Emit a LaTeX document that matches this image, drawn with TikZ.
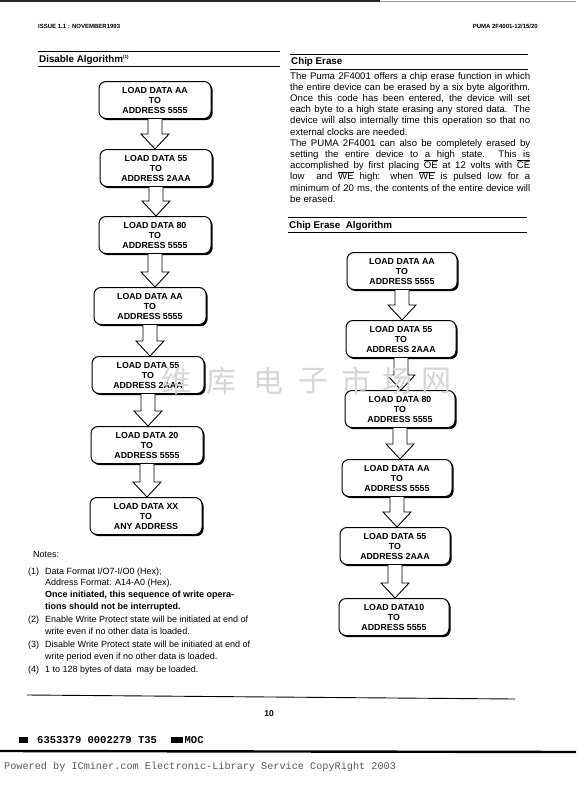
\documentclass[tikz,border=0pt]{standalone}
\usepackage{fontspec}
\setmainfont{Liberation Sans}
\newfontfamily\monofont{Liberation Mono}
\newfontfamily\cjkfont{Noto Sans CJK SC}
\usetikzlibrary{calc, shadows, positioning}

\tikzset{
  stepbox/.style={draw, line width=1pt, rounded corners=7pt, fill=white,
    minimum width=112pt, minimum height=37pt, align=center, inner sep=1pt,
    font=\fontsize{8.8}{10}\selectfont\bfseries,
    drop shadow={shadow xshift=1.6pt, shadow yshift=-1.6pt, opacity=1, fill=black}},
  hollow/.style={draw, line width=0.9pt, fill=white, line join=miter},
  rulebar/.style={line width=0.9pt},
  heading/.style={anchor=base west, inner sep=0pt, font=\fontsize{9.8}{11}\selectfont\bfseries},
  bodytext/.style={anchor=north west, inner sep=0pt, align=left, font=\fontsize{9.6}{11.2}\selectfont},
  smallhead/.style={inner sep=0pt, font=\fontsize{6}{6}\selectfont\bfseries},
}
\newcommand{\jline}[1]{\makebox[240pt][s]{#1}}
\newcommand{\notenum}[1]{\makebox[17pt][l]{#1}}
\newcommand{\ovl}[1]{$\overline{\mbox{#1}}$}

\begin{document}
\begin{tikzpicture}[x=1pt, y=-1pt]
  \useasboundingbox (0,0) rectangle (576,792);
  \fill[white] (0,0) rectangle (576,792);
  % scan edge at top
  \draw[line width=1.6pt, black!85] (0,1) -- (380,1);
  \draw[line width=0.8pt, black!40] (380,1) -- (576,1);

  % page header
  \node[smallhead, anchor=base west] (issue) at (38,29) {ISSUE 1.1 : NOVEMBER1993};
  \node[smallhead, anchor=base east] (part) at (538,29) {PUMA 2F4001-12/15/20};

  % left heading
  \draw[rulebar] (38,51) -- (280,51);
  \node[heading] (hdis) at (39,62.5) {Disable Algorithm\textsuperscript{\fontsize{4.5}{4.5}\selectfont(1)}};
  \draw[rulebar] (38,66) -- (280,66);

  % right headings
  \draw[rulebar] (290,54) -- (528,54);
  \node[heading] (hchip) at (291,64.5) {Chip Erase};
  \draw[rulebar] (290,69) -- (528,69);
  \draw[rulebar] (288,217) -- (527,217);
  \node[heading] (halg) at (289,228.5) {Chip Erase\ \ Algorithm};
  \draw[rulebar] (288,232) -- (527,232);

  % chip erase text
  \node[bodytext] (para) at (290,72) {%
    \jline{The Puma 2F4001 offers a chip erase function in which}\\
    \jline{the entire device can be erased by a six byte algorithm.}\\
    \jline{Once this code has been entered, the device will set}\\
    \jline{each byte to a high\ state erasing any stored data. The}\\
    \jline{device will also internally time this operation so that no}\\
    external clocks are needed.\\
    \jline{The PUMA 2F4001 can also be completely erased by}\\
    \jline{setting the entire device to a high state.\ \ This is}\\
    \jline{accomplished by first placing\ \ovl{OE} at 12 volts with \ovl{CE}}\\
    \jline{low\ \ and \ovl{WE} high: when \ovl{WE} is pulsed low for a}\\
    \jline{minimum of 20 ms, the contents of the entire device will}\\
    be erased.};

  % disable algorithm
  \foreach \n/\x/\y/\t in {1/155/100/{LOAD DATA AA\\TO\\ADDRESS 5555},
      2/156/168/{LOAD DATA 55\\TO\\ADDRESS 2AAA},
      3/155/235/{LOAD DATA 80\\TO\\ADDRESS 5555},
      4/150/306/{LOAD DATA AA\\TO\\ADDRESS 5555},
      5/148/375/{LOAD DATA 55\\TO\\ADDRESS 2AAA},
      6/147/445/{LOAD DATA 20\\TO\\ADDRESS 5555},
      7/146/516/{LOAD DATA XX\\TO\\ANY ADDRESS}}
    \node[stepbox] (l\n) at (\x,\y) {\t};

  % chip erase algorithm
  \foreach \n/\x/\y/\t in {1/402/271/{LOAD DATA AA\\TO\\ADDRESS 5555},
      2/401/339/{LOAD DATA 55\\TO\\ADDRESS 2AAA},
      3/400/409/{LOAD DATA 80\\TO\\ADDRESS 5555},
      4/397/478/{LOAD DATA AA\\TO\\ADDRESS 5555},
      5/395/546/{LOAD DATA 55\\TO\\ADDRESS 2AAA},
      6/394/617/{LOAD DATA10\\TO\\ADDRESS 5555}}
    \node[stepbox, minimum width=110pt] (r\n) at (\x,\y) {\t};

  % block arrows
  \foreach \i [count=\j from 2] in {1,...,6}
    \draw[hollow] let \p1=(l\i.south), \p2=(l\j.north) in
      ({\x1-7pt},\y1) -- ({\x1-7pt},{\y2+15pt}) -- ({\x1-14pt},{\y2+15pt}) -- (\x1,\y2)
      -- ({\x1+14pt},{\y2+15pt}) -- ({\x1+7pt},{\y2+15pt}) -- ({\x1+7pt},\y1);
  \foreach \i [count=\j from 2] in {1,...,5}
    \draw[hollow] let \p1=(r\i.south), \p2=(r\j.north) in
      ({\x1-7pt},\y1) -- ({\x1-7pt},{\y2+15pt}) -- ({\x1-14pt},{\y2+15pt}) -- (\x1,\y2)
      -- ({\x1+14pt},{\y2+15pt}) -- ({\x1+7pt},{\y2+15pt}) -- ({\x1+7pt},\y1);

  % notes
  \node[bodytext, font=\fontsize{9}{11.7}\selectfont] (notes) at (28,551) {%
    \hspace*{5pt}Notes:\\[5pt]
    \notenum{(1)}Data Format I/O7-I/O0 (Hex);\\
    \hspace*{17pt}Address Format: A14-A0 (Hex).\\
    \hspace*{17pt}\textbf{Once initiated, this sequence of write opera-}\\
    \hspace*{17pt}\textbf{tions should not be interrupted.}\\[1.6pt]
    \notenum{(2)}Enable Write Protect state will be initiated at end of\\
    \hspace*{17pt}write even if no other data is loaded.\\[1.6pt]
    \notenum{(3)}Disable Write Protect state will be initiated at end of\\
    \hspace*{17pt}write period even if no other data is loaded.\\[1.6pt]
    \notenum{(4)}1 to 128 bytes of data\ \ may be loaded.};

  % watermark
  \foreach \c/\x [count=\k] in {维/176,库/221,电/268,子/313,市/356,场/397,网/436}
    \node[text=black!16, font=\cjkfont\fontsize{30}{30}\selectfont, inner sep=0pt] (mark\k) at (\x,381) {\c};

  % page footer
  \draw[line width=0.9pt] (27,695) -- (515,699);
  \node[font=\fontsize{8.5}{9}\selectfont\bfseries] (pnum) at (269,714) {10};
  \node[anchor=west, inner sep=0pt, font=\monofont\bfseries\fontsize{10.5}{10}\selectfont] (code) at (19,740)
    {\rule{9pt}{6pt}\hspace{9pt}6353379 0002279 T35\hspace{14pt}\rule{12pt}{6pt}\,MOC};
  \draw[line width=2.4pt] (0,751) -- (576,752);
  \node[anchor=west, inner sep=0pt, text=black!65, font=\monofont\fontsize{10.2}{11}\selectfont] (power) at (4,767)
    {Powered by ICminer.com Electronic-Library Service CopyRight 2003};
\end{tikzpicture}
\end{document}
